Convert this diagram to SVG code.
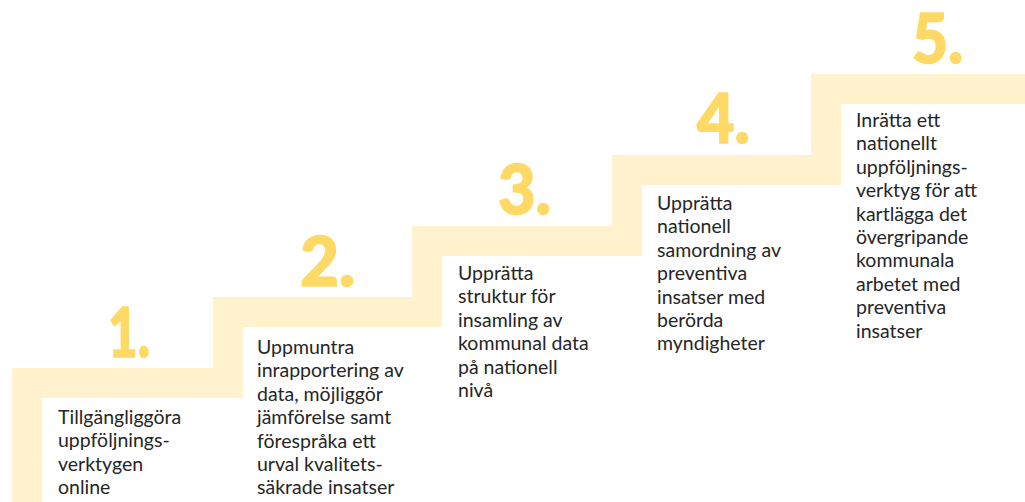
<svg xmlns="http://www.w3.org/2000/svg" width="1025" height="502" viewBox="0 0 1025 502">
<style>
.stair{fill:#FFF2CC}
.num{font-family:Lato,"Liberation Sans",sans-serif;font-weight:900;font-size:68px;fill:#FFD966;stroke:#FFD966;stroke-width:1.6;stroke-linejoin:round;text-anchor:end}
.lbl{font-family:Lato,"Liberation Sans",sans-serif;font-size:19.5px;fill:#262626}
</style>
<rect width="1025" height="502" fill="#FFFFFF"/>
<g id="stairs">
<polygon class="stair" points="12,502 12,368 213,368 213,297 412,297 412,226 612,226 612,155 811,155 811,74 1025,74 1025,104 841,104 841,185 642,185 642,256 442,256 442,327 243,327 243,398 42,398 42,502"/>
</g>
<g id="step1">
<text class="num" x="150" y="357" textLength="42" lengthAdjust="spacingAndGlyphs">1.</text>
<text class="lbl" x="58" y="424"><tspan x="58">Tillgängliggöra</tspan><tspan x="58" dy="23.4">uppföljnings-</tspan><tspan x="58" dy="23.4">verktygen</tspan><tspan x="58" dy="23.4">online</tspan></text>
</g>
<g id="step2">
<text class="num" x="355" y="286" textLength="55" lengthAdjust="spacingAndGlyphs">2.</text>
<text class="lbl" x="257" y="354"><tspan x="257">Uppmuntra</tspan><tspan x="257" dy="23.4">inrapportering av</tspan><tspan x="257" dy="23.4">data, möjliggör</tspan><tspan x="257" dy="23.4">jämförelse samt</tspan><tspan x="257" dy="23.4">förespråka ett</tspan><tspan x="257" dy="23.4">urval kvalitets-</tspan><tspan x="257" dy="23.4">säkrade insatser</tspan></text>
</g>
<g id="step3">
<text class="num" x="551" y="214" textLength="53" lengthAdjust="spacingAndGlyphs">3.</text>
<text class="lbl" x="458" y="280"><tspan x="458">Upprätta</tspan><tspan x="458" dy="23.4">struktur för</tspan><tspan x="458" dy="23.4">insamling av</tspan><tspan x="458" dy="23.4">kommunal data</tspan><tspan x="458" dy="23.4">på nationell</tspan><tspan x="458" dy="23.4">nivå</tspan></text>
</g>
<g id="step4">
<text class="num" x="750" y="143" textLength="53" lengthAdjust="spacingAndGlyphs">4.</text>
<text class="lbl" x="657" y="210"><tspan x="657">Upprätta</tspan><tspan x="657" dy="23.4">nationell</tspan><tspan x="657" dy="23.4">samordning av</tspan><tspan x="657" dy="23.4">preventiva</tspan><tspan x="657" dy="23.4">insatser med</tspan><tspan x="657" dy="23.4">berörda</tspan><tspan x="657" dy="23.4">myndigheter</tspan></text>
</g>
<g id="step5">
<text class="num" x="963" y="63" textLength="51" lengthAdjust="spacingAndGlyphs">5.</text>
<text class="lbl" x="856" y="127"><tspan x="856">Inrätta ett</tspan><tspan x="856" dy="23.4">nationellt</tspan><tspan x="856" dy="23.4">uppföljnings-</tspan><tspan x="856" dy="23.4">verktyg för att</tspan><tspan x="856" dy="23.4">kartlägga det</tspan><tspan x="856" dy="23.4">övergripande</tspan><tspan x="856" dy="23.4">kommunala</tspan><tspan x="856" dy="23.4">arbetet med</tspan><tspan x="856" dy="23.4">preventiva</tspan><tspan x="856" dy="23.4">insatser</tspan></text>
</g>
<g id="connectors"/>
</svg>
